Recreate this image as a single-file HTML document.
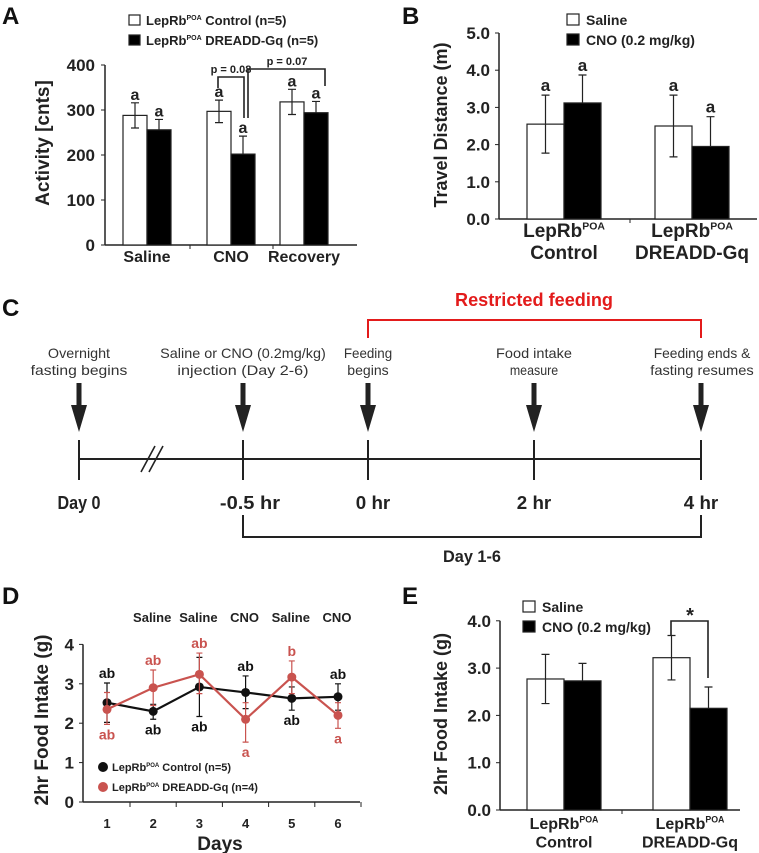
<!DOCTYPE html>
<html><head><meta charset="utf-8"><style>
html,body{margin:0;padding:0;background:#fff;}
svg{display:block;font-family:"Liberation Sans",Arial,sans-serif;font-weight:bold;}
</style></head><body>
<svg id="fig" width="759" height="853" viewBox="0 0 759 853" xmlns="http://www.w3.org/2000/svg">
<g font-size="24" fill="#111">
<text x="2" y="24">A</text>
<text x="402" y="24">B</text>
<text x="2" y="316">C</text>
<text x="2" y="604">D</text>
<text x="402" y="604">E</text>
</g>
<g fill="#222" stroke="none">
<text x="534" y="306" font-size="18" fill="#e31b1b" text-anchor="middle" textLength="158" lengthAdjust="spacingAndGlyphs">Restricted feeding</text>
<path d="M368 338 V320 H701 V338" fill="none" stroke="#e31b1b" stroke-width="2"/>
<line x1="79" y1="459" x2="701" y2="459" stroke="#222" stroke-width="2"/>
<path d="M141 472 L155 446 M149 472 L163 446" stroke="#222" stroke-width="1.6"/>
<path d="M243 515 V537 H701 V515" fill="none" stroke="#222" stroke-width="2"/>
<text x="472" y="562" font-size="17" text-anchor="middle" textLength="58" lengthAdjust="spacingAndGlyphs">Day 1-6</text>
</g>
<g id="cEvents"></g>
<g id="pA"></g>
<g id="pB"></g>
<g id="pD"></g>
<g id="pE"></g>
</svg>
<script>
// ---- Panel A data ----
const aCategories = ["Saline","CNO","Recovery"];
const aControl = [288,297,318];
const aControlErr = [28,25,28];
const aDreadd = [256,202,294];
const aDreaddErr = [23,40,25];
const aTicks = [0,100,200,300,400];
// ---- Panel B data ----
const bGroups = [["LepRb","Control"],["LepRb","DREADD-Gq"]];
const bSaline = [2.55,2.5];
const bSalineErr = [0.78,0.83];
const bCno = [3.12,1.95];
const bCnoErr = [0.75,0.8];
const bTicks = [0,1,2,3,4,5];
// ---- Panel C timeline ----
const cTimes = ["Day 0","-0.5 hr","0 hr","2 hr","4 hr"];
const cEventText = [["Overnight","fasting begins"],["Saline or CNO (0.2mg/kg)","injection (Day 2-6)"],["Feeding","begins"],["Food intake","measure"],["Feeding ends &","fasting resumes"]];
// ---- Panel D data ----
const dDays = [1,2,3,4,5,6];
const dTreat = ["","Saline","Saline","CNO","Saline","CNO"];
const dControl = [2.52,2.3,2.92,2.78,2.63,2.67];
const dControlLo = [2.02,2.1,2.17,2.37,2.33,2.33];
const dControlHi = [3.02,2.48,3.67,3.2,2.92,3.0];
const dControlLbl = ["ab","ab","ab","ab","ab","ab"];
const dControlLblPos = ["up","down","down","up","down","up"];
const dDreadd = [2.35,2.9,3.24,2.1,3.17,2.2];
const dDreaddLo = [1.97,2.45,2.75,1.52,2.75,1.87];
const dDreaddHi = [2.78,3.35,3.78,2.52,3.58,2.52];
const dDreaddLbl = ["ab","ab","ab","a","b","a"];
const dDreaddLblPos = ["down","up","up","down","up","down"];
const dTicks = [0,1,2,3,4];
// ---- Panel E data ----
const eGroups = [["LepRb","Control"],["LepRb","DREADD-Gq"]];
const eSaline = [2.77,3.22];
const eSalineErr = [0.52,0.47];
const eCno = [2.73,2.15];
const eCnoErr = [0.37,0.45];
const eTicks = [0,1,2,3,4];

const NS="http://www.w3.org/2000/svg";
function mk(parent,tag,attrs,txt){const e=document.createElementNS(NS,tag);for(const k in attrs)e.setAttribute(k,attrs[k]);if(txt!==undefined)e.textContent=txt;parent.appendChild(e);return e;}
const RED="#c9534f";

// ===== Panel A =====
(function(){
  const g=document.getElementById('pA');
  const x0=105,xEnd=357,yA=v=>245-v*0.45;
  const groupX=[123,207,280],bw=24;
  let e=mk(g,'line',{x1:x0,y1:yA(0),x2:xEnd,y2:yA(0),stroke:'#222','stroke-width':1.5});
  
  e=mk(g,'line',{x1:x0,y1:yA(0),x2:x0,y2:yA(400),stroke:'#222','stroke-width':1.5});
  
  aTicks.forEach(t=>{
    e=mk(g,'line',{x1:x0-4,y1:yA(t),x2:x0,y2:yA(t),stroke:'#222'});
    
    e=mk(g,'text',{x:x0-10,y:yA(t)+6,'font-size':17,'text-anchor':'end',fill:'#222'},String(t));
    
  });
  [190,273].forEach(x=>{e=mk(g,'line',{x1:x,y1:yA(0),x2:x,y2:yA(0)+4,stroke:'#222'});
    });
  aCategories.forEach((c,i)=>{
    const gx=groupX[i];
    const draw=(v,err,x,fill,nm)=>{
      let r=mk(g,'rect',{x:x,y:yA(v),width:bw,height:yA(0)-yA(v),fill:fill,stroke:'#222','stroke-width':1.2});
      
      const cx=x+bw/2;
      let l=mk(g,'path',{d:`M${cx} ${yA(v+err)}V${fill==='#000'?yA(v):yA(v-err)}M${cx-4} ${yA(v+err)}H${cx+4}`+(fill==='#000'?'':`M${cx-4} ${yA(v-err)}H${cx+4}`),stroke:'#222','stroke-width':1.2,fill:'none'});
      
      let t=mk(g,'text',{x:cx,y:yA(v+err)-3,'font-size':16,'text-anchor':'middle',fill:'#222'},'a');
      
    };
    draw(aControl[i],aControlErr[i],gx,'#fff','a-bar-control-'+c.toLowerCase());
    draw(aDreadd[i],aDreaddErr[i],gx+bw,'#000','a-bar-dreadd-'+c.toLowerCase());
    e=mk(g,'text',{x:gx+bw,y:262,'font-size':16,'text-anchor':'middle',fill:'#222'},c);
    
  });
  e=mk(g,'text',{x:0,y:0,'font-size':19,'text-anchor':'middle',fill:'#222',transform:'translate(49,143) rotate(-90)'},'Activity [cnts]');
  
  e=mk(g,'path',{d:'M218 88V77H244V118M248 118V69H325V86',stroke:'#222','stroke-width':1.6,fill:'none'});
  
  e=mk(g,'text',{x:231,y:73,'font-size':11,'text-anchor':'middle',fill:'#222'},'p = 0.08');
  
  e=mk(g,'text',{x:287,y:65,'font-size':11,'text-anchor':'middle',fill:'#222'},'p = 0.07');
  
  const lg=[["LepRb","POA"," Control (n=5)",'#fff'],["LepRb","POA"," DREADD-Gq (n=5)",'#000']];
  lg.forEach((L,i)=>{
    const y=15+i*20;
    let r=mk(g,'rect',{x:129,y:y,width:11,height:10,fill:L[3],stroke:'#222','stroke-width':1.2});
    
    let t=mk(g,'text',{x:146,y:y+10,'font-size':13,fill:'#222'});
    
    mk(t,'tspan',{},L[0]);mk(t,'tspan',{'font-size':7,dy:-5},L[1]);mk(t,'tspan',{dy:5},L[2]);
  });
})();

// ===== generic two-group bar panel (B, E) =====
function barPanel(gid,prefix,groups,sal,salErr,cno,cnoErr,ticks,y0,ppu,x0,xEnd,xs,fmt,ytitle,titleX,titleY,legX,legY,letters,labY){
  const g=document.getElementById(gid);
  const yS=v=>y0-v*ppu;const bw=37;
  let e=mk(g,'line',{x1:x0,y1:y0,x2:xEnd,y2:y0,stroke:'#222','stroke-width':1.5});
  
  e=mk(g,'line',{x1:x0,y1:y0,x2:x0,y2:yS(ticks[ticks.length-1]),stroke:'#222','stroke-width':1.5});
  
  ticks.forEach(t=>{
    e=mk(g,'line',{x1:x0-4,y1:yS(t),x2:x0,y2:yS(t),stroke:'#222'});
    
    e=mk(g,'text',{x:x0-9,y:yS(t)+6,'font-size':17,'text-anchor':'end',fill:'#222'},t.toFixed(1));
    
  });
  e=mk(g,'line',{x1:(x0+xEnd)/2+2,y1:y0,x2:(x0+xEnd)/2+2,y2:y0+4,stroke:'#222'});
  
  groups.forEach((G,i)=>{
    const gx=xs[i];
    [[sal[i],salErr[i],gx,'#fff','saline'],[cno[i],cnoErr[i],gx+bw,'#000','cno']].forEach(([v,err,x,fill,nm])=>{
      let r=mk(g,'rect',{x:x,y:yS(v),width:bw,height:y0-yS(v),fill:fill,stroke:'#222','stroke-width':1.2});
      
      const cx=x+bw/2;
      let l=mk(g,'path',{d:`M${cx} ${yS(v+err)}V${fill==='#000'?yS(v):yS(v-err)}M${cx-4} ${yS(v+err)}H${cx+4}`+(fill==='#000'?'':`M${cx-4} ${yS(v-err)}H${cx+4}`),stroke:'#222','stroke-width':1.2,fill:'none'});
      
      if(letters){let t=mk(g,'text',{x:cx,y:yS(v+err)-4,'font-size':17,'text-anchor':'middle',fill:'#222'},'a');
        }
    });
    let t=mk(g,'text',{x:gx+bw,y:labY,'font-size':fmt,'text-anchor':'middle',fill:'#222'});
    
    mk(t,'tspan',{},G[0]);mk(t,'tspan',{'font-size':fmt*0.55,dy:-fmt*0.4},'POA');
    let t2=mk(g,'text',{x:gx+bw,y:labY+fmt*1.15,'font-size':fmt,'text-anchor':'middle',fill:'#222'},G[1]);
    
  });
  e=mk(g,'text',{x:0,y:0,'font-size':18,'text-anchor':'middle',fill:'#222',transform:`translate(${titleX},${titleY}) rotate(-90)`},ytitle);
  
  [['Saline','#fff'],['CNO (0.2 mg/kg)','#000']].forEach((L,i)=>{
    const y=legY+i*20;
    let r=mk(g,'rect',{x:legX,y:y,width:12,height:11,fill:L[1],stroke:'#222','stroke-width':1.2});
    
    let t=mk(g,'text',{x:legX+19,y:y+11,'font-size':14,fill:'#222'},L[0]);
    
  });
  return {g,yS};
}
barPanel('pB','b',bGroups,bSaline,bSalineErr,bCno,bCnoErr,bTicks,219,37.2,499,757,[527,655],19,'Travel Distance (m)',447,125,567,14,true,237);
const E=barPanel('pE','e',eGroups,eSaline,eSalineErr,eCno,eCnoErr,eTicks,810,47.3,500,740,[527,653],16,'2hr Food Intake (g)',447,714,523,601,false,829);
(function(){
  const g=E.g;
  let e=mk(g,'path',{d:'M671 635V621H708V678',stroke:'#222','stroke-width':1.6,fill:'none'});
  
  e=mk(g,'text',{x:690,y:622,'font-size':20,'text-anchor':'middle',fill:'#222'},'*');
  
})();

// ===== Panel C events (layout positions of diagram stations) =====
(function(){
  const g=document.getElementById('cEvents');
  const stationX=[79,243,368,534,701];
  cTimes.forEach((lab,i)=>{
    const x=stationX[i];
    let e=mk(g,'line',{x1:x,y1:440,x2:x,y2:480,stroke:'#222','stroke-width':2});
    
    e=mk(g,'path',{d:`M${x-2.5} 383H${x+2.5}V405H${x+8}L${x} 432L${x-8} 405H${x-2.5}Z`,fill:'#222'});
    
    e=mk(g,'text',{x:x+(i===1?7:(i===2?5:0)),y:509,'font-size':18,'text-anchor':'middle',fill:'#222','textLength':lab.length*8.6,'lengthAdjust':'spacingAndGlyphs'},lab);
    
    cEventText[i].forEach((s,j)=>{
      let t=mk(g,'text',{x:x+(i===4?1:0),y:358+j*17,'font-size':14,'text-anchor':'middle',fill:'#333','font-weight':'normal','textLength':s.length*6.9,'lengthAdjust':'spacingAndGlyphs'},s);
      
    });
  });
})();

// ===== Panel D =====
(function(){
  const g=document.getElementById('pD');
  const x0=83,xEnd=360,y0=802,ppu=39.4;
  const xD=d=>107+(d-1)*46.2;const yD=v=>y0-v*ppu;
  let e=mk(g,'line',{x1:x0,y1:y0,x2:xEnd,y2:y0,stroke:'#222','stroke-width':1.5});
  
  e=mk(g,'line',{x1:x0,y1:y0,x2:x0,y2:yD(4),stroke:'#222','stroke-width':1.5});
  
  dTicks.forEach(t=>{
    e=mk(g,'line',{x1:x0-4,y1:yD(t),x2:x0,y2:yD(t),stroke:'#222'});
    
    e=mk(g,'text',{x:x0-9,y:yD(t)+6,'font-size':17,'text-anchor':'end',fill:'#222'},String(t));
    
  });
  dDays.forEach((d,i)=>{
    e=mk(g,'line',{x1:xD(d)+23,y1:y0,x2:xD(d)+23,y2:y0+5,stroke:'#222'});
    
    e=mk(g,'text',{x:xD(d),y:828,'font-size':13,'text-anchor':'middle',fill:'#222'},String(d));
    
    if(dTreat[i]){e=mk(g,'text',{x:xD(d)-1,y:622,'font-size':13,'text-anchor':'middle',fill:'#222'},dTreat[i]);
      }
  });
  e=mk(g,'text',{x:220,y:850,'font-size':19,'text-anchor':'middle',fill:'#222'},'Days');
  
  e=mk(g,'text',{x:0,y:0,'font-size':19,'text-anchor':'middle',fill:'#222',transform:'translate(48,720) rotate(-90)'},'2hr Food Intake (g)');
  
  const series=[[dControl,dControlLo,dControlHi,dControlLbl,dControlLblPos,'#111','control'],[dDreadd,dDreaddLo,dDreaddHi,dDreaddLbl,dDreaddLblPos,RED,'dreadd']];
  series.forEach(([v,lo,hi,lb,lp,col,nm])=>{
    v.forEach((val,i)=>{
      const x=xD(dDays[i]);
      let eb=mk(g,'path',{d:`M${x} ${yD(lo[i])}V${yD(hi[i])}M${x-3} ${yD(lo[i])}H${x+3}M${x-3} ${yD(hi[i])}H${x+3}`,stroke:col,'stroke-width':1.2,fill:'none'});
      
    });
    let p=mk(g,'polyline',{points:v.map((val,i)=>xD(dDays[i])+','+yD(val)).join(' '),fill:'none',stroke:col,'stroke-width':2.2});
    
    v.forEach((val,i)=>{
      const x=xD(dDays[i]);
      let c=mk(g,'circle',{cx:x,cy:yD(val),r:4.5,fill:col});
      
      const ty=lp[i]==='up'?yD(hi[i])-5:yD(lo[i])+15;
      let t=mk(g,'text',{x:x,y:ty,'font-size':14,'text-anchor':'middle',fill:col},lb[i]);
      
    });
  });
  [['Control (n=5)','#111'],['DREADD-Gq (n=4)',RED]].forEach((L,i)=>{
    const y=767+i*20;
    let c=mk(g,'circle',{cx:103,cy:y,r:5,fill:L[1]});
    
    let t=mk(g,'text',{x:112,y:y+4,'font-size':11,fill:'#222'});
    
    mk(t,'tspan',{},'LepRb');mk(t,'tspan',{'font-size':6,dy:-4},'POA');mk(t,'tspan',{dy:4},' '+L[0]);
  });
})();
</script>
</body></html>
